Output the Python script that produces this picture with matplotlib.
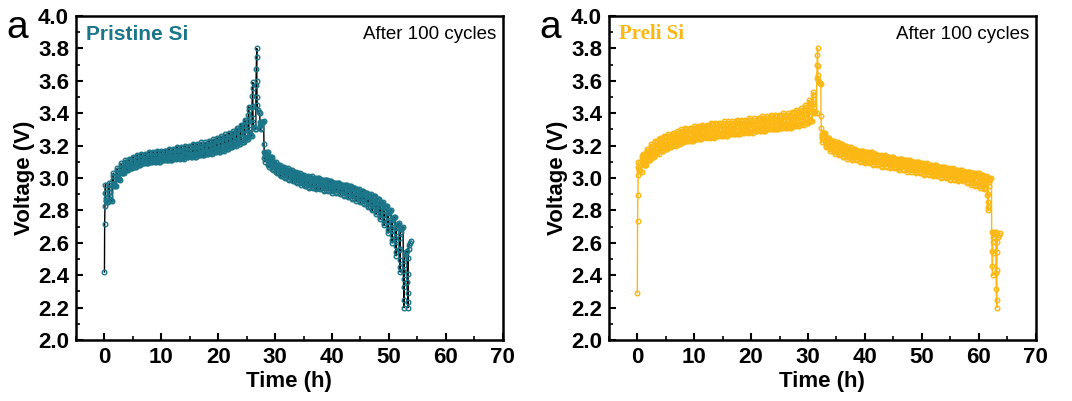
import numpy as np
import matplotlib.pyplot as plt
from matplotlib.ticker import MultipleLocator

# ---- GITT data (V) ----
# Pristine Si: charge pulses (peak at end of pulse, relaxed value after rest)
pri_start = 2.42
pri_chg_peak = [2.96, 2.97, 3.03, 3.06, 3.09, 3.11, 3.12, 3.13, 3.14, 3.15,
                3.15, 3.16, 3.16, 3.17, 3.17, 3.17, 3.18, 3.18, 3.19, 3.19,
                3.20, 3.20, 3.21, 3.21, 3.22, 3.22, 3.23, 3.24, 3.25, 3.26,
                3.27, 3.28, 3.29, 3.31, 3.33, 3.36, 3.44, 3.59, 3.80]
pri_chg_relax = [2.85, 2.86, 2.95, 2.99, 3.03, 3.05, 3.06, 3.07, 3.08, 3.09,
                 3.09, 3.10, 3.10, 3.10, 3.11, 3.11, 3.11, 3.12, 3.12, 3.12,
                 3.13, 3.13, 3.13, 3.14, 3.14, 3.15, 3.15, 3.16, 3.16, 3.17,
                 3.18, 3.19, 3.20, 3.21, 3.22, 3.24, 3.26, 3.30, 3.40]
# discharge pulses (end of pulse, relaxed value)
pri_dis_end = [3.30, 3.10, 3.07, 3.05, 3.03, 3.01, 3.00, 2.99, 2.98, 2.97,
               2.96, 2.95, 2.94, 2.94, 2.93, 2.93, 2.92, 2.92, 2.91, 2.91,
               2.90, 2.89, 2.88, 2.87, 2.86, 2.85, 2.84, 2.82, 2.80, 2.78,
               2.75, 2.71, 2.66, 2.60, 2.52, 2.42, 2.20, 2.20]
pri_dis_relax = [3.35, 3.16, 3.13, 3.10, 3.08, 3.07, 3.06, 3.05, 3.04, 3.03,
                 3.02, 3.01, 3.01, 3.00, 3.00, 2.99, 2.99, 2.98, 2.97, 2.97,
                 2.96, 2.96, 2.95, 2.94, 2.93, 2.92, 2.91, 2.90, 2.89, 2.87,
                 2.85, 2.83, 2.80, 2.76, 2.72, 2.70, 2.55, 2.61]
pri_period = 0.70  # h per titration step

# Preli Si
pre_start = 2.29
pre_chg_peak = [3.10, 3.15, 3.18, 3.21, 3.23, 3.25, 3.26, 3.27, 3.28, 3.29,
                3.30, 3.31, 3.31, 3.32, 3.32, 3.33, 3.33, 3.34, 3.34, 3.34,
                3.35, 3.35, 3.35, 3.36, 3.36, 3.36, 3.37, 3.37, 3.37, 3.38,
                3.38, 3.39, 3.39, 3.39, 3.40, 3.40, 3.41, 3.42, 3.43, 3.45,
                3.48, 3.53, 3.80]
pre_chg_relax = [3.04, 3.08, 3.11, 3.13, 3.15, 3.17, 3.18, 3.19, 3.20, 3.21,
                 3.22, 3.23, 3.23, 3.24, 3.24, 3.25, 3.25, 3.25, 3.26, 3.26,
                 3.26, 3.27, 3.27, 3.27, 3.28, 3.28, 3.28, 3.29, 3.29, 3.29,
                 3.30, 3.30, 3.30, 3.31, 3.31, 3.31, 3.32, 3.32, 3.33, 3.34,
                 3.35, 3.40, 3.58]
pre_dis_end = [3.22, 3.19, 3.17, 3.15, 3.14, 3.13, 3.12, 3.11, 3.11, 3.10,
               3.09, 3.09, 3.08, 3.08, 3.07, 3.07, 3.06, 3.06, 3.05, 3.05,
               3.04, 3.04, 3.03, 3.03, 3.02, 3.02, 3.01, 3.01, 3.00, 3.00,
               2.99, 2.99, 2.98, 2.98, 2.97, 2.96, 2.95, 2.94, 2.93, 2.80,
               2.40, 2.20]
pre_dis_relax = [3.28, 3.25, 3.23, 3.22, 3.21, 3.20, 3.19, 3.18, 3.17, 3.17,
                 3.16, 3.16, 3.15, 3.14, 3.14, 3.13, 3.13, 3.12, 3.12, 3.11,
                 3.11, 3.10, 3.10, 3.09, 3.09, 3.08, 3.08, 3.07, 3.07, 3.06,
                 3.06, 3.05, 3.05, 3.04, 3.04, 3.03, 3.03, 3.02, 3.01, 3.00,
                 2.67, 2.66]
pre_period = 0.75

panels = [("Pristine Si", pri_start, pri_chg_peak, pri_chg_relax, pri_dis_end, pri_dis_relax,
           pri_period, '#1b7689', 'black', '#1b7689', 'Liberation Sans'),
          ("Preli Si", pre_start, pre_chg_peak, pre_chg_relax, pre_dis_end, pre_dis_relax,
           pre_period, '#fbb714', '#fbb714', '#fbb714', 'Liberation Serif')]

# sampling pattern of one titration step (fractions of step time / of voltage swing)
rise_t = [0.05, 0.12, 0.19, 0.25]
rise_f = [0.55, 0.75, 0.9, 1.0]
relax_t = [0.27, 0.31, 0.38, 0.5, 0.7, 1.0]
relax_f = [0.5, 0.75, 0.88, 0.95, 0.98, 1.0]


def gitt_curve(start, peaks, relaxes, ends, relaxes_d, period):
    # build time/voltage trace: pulse -> rest, one step after another
    t, v = [0.0], [start]
    now, prev = 0.0, start
    for pk, rx in zip(peaks + ends, relaxes + relaxes_d):
        for a, f in zip(rise_t, rise_f):
            t.append(now + a * period)
            v.append(prev + f * (pk - prev))
        for a, f in zip(relax_t, relax_f):
            t.append(now + a * period)
            v.append(pk + f * (rx - pk))
        now += period
        prev = rx
    return np.array(t), np.array(v)


plt.rcParams['font.family'] = ['Liberation Sans', 'DejaVu Sans']
fig = plt.figure(figsize=(10.72, 4.01), dpi=100)
lefts = [0.0709, 0.568]

for i, (name, st, cp, cr, de, dr, per, mcol, lcol, tcol, tfont) in enumerate(panels):
    ax = fig.add_axes([lefts[i], 0.152, 0.398, 0.808])
    t, v = gitt_curve(st, cp, cr, de, dr, per)
    ax.plot(t, v, '-', color=lcol, lw=1.0, zorder=2)
    ax.plot(t, v, 'o', ms=3.3, mfc='none', mec=mcol, mew=1.0, zorder=3)
    ax.set_xlim(-5, 70)
    ax.set_ylim(2.0, 4.0)
    ax.xaxis.set_major_locator(MultipleLocator(10))
    ax.xaxis.set_minor_locator(MultipleLocator(5))
    ax.yaxis.set_major_locator(MultipleLocator(0.2))
    ax.yaxis.set_minor_locator(MultipleLocator(0.1))
    ax.yaxis.set_major_formatter(plt.FormatStrFormatter('%.1f'))
    ax.tick_params(which='major', direction='in', length=5, width=1.5, labelsize=16, pad=5)
    ax.tick_params(which='minor', direction='in', length=3, width=1.2)
    for lab in ax.get_xticklabels() + ax.get_yticklabels():
        lab.set_fontweight('bold')
    for sp in ax.spines.values():
        sp.set_linewidth(1.8)
    ax.set_xlabel('Time (h)', fontsize=16, fontweight='bold', labelpad=2)
    ax.set_ylabel('Voltage (V)', fontsize=16, fontweight='bold', labelpad=2)
    ax.text(0.023, 0.944, name, transform=ax.transAxes, color=tcol, fontsize=15,
            fontweight='bold', family=tfont, va='center', ha='left')
    ax.text(0.986, 0.944, 'After 100 cycles', transform=ax.transAxes, fontsize=13.5,
            va='center', ha='right')
    fig.text(lefts[i] - 0.065, 0.93, 'a', fontsize=28, va='center', ha='left')

fig.savefig('out.png', dpi=100)
